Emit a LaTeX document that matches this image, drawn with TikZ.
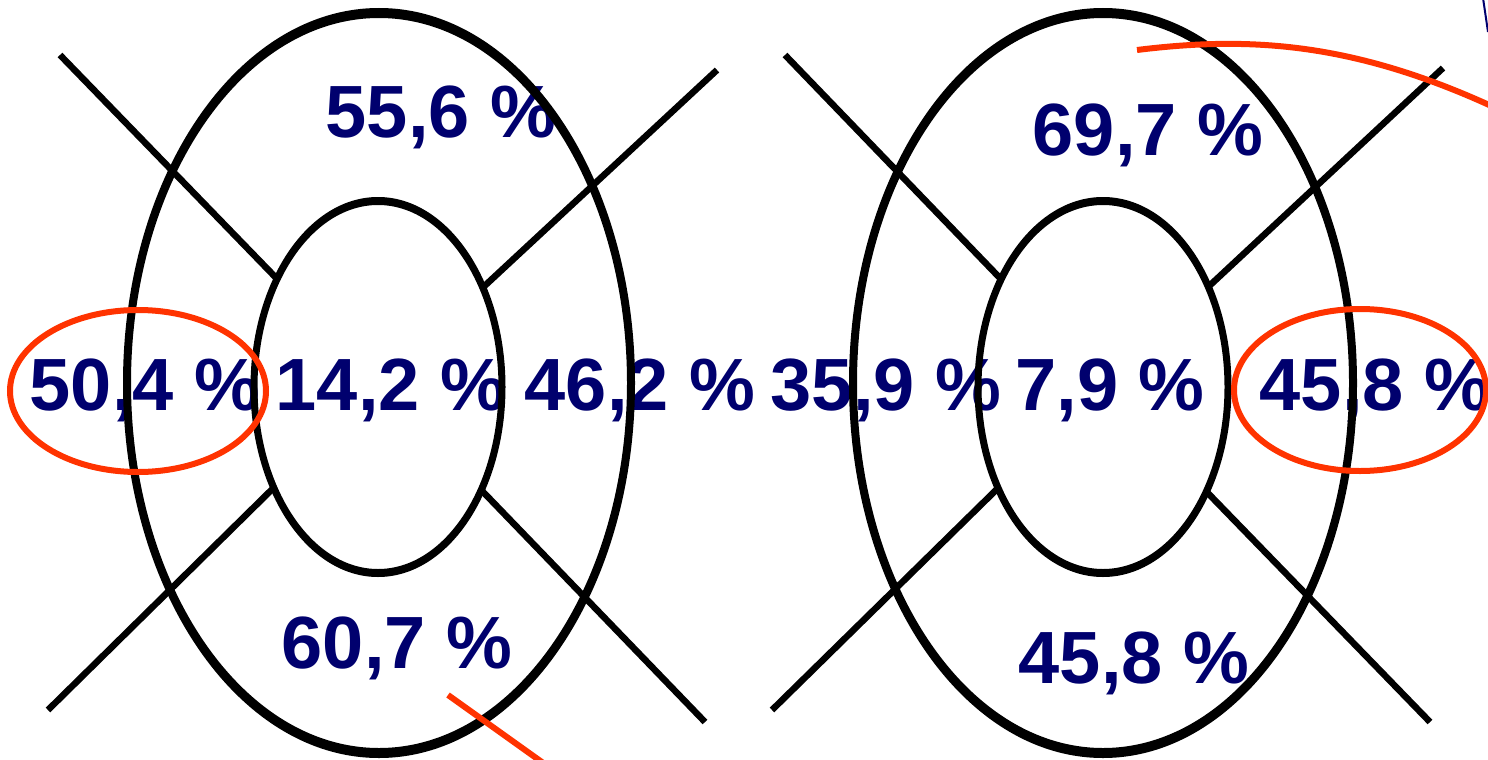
\documentclass[tikz,border=0pt]{standalone}
\usepackage{fontspec}
\setmainfont{Liberation Sans}
\definecolor{navy}{RGB}{0,0,110}
\definecolor{redink}{RGB}{255,51,0}
\begin{document}
\begin{tikzpicture}[x=1pt,y=-1pt,
  pct/.style={text=navy,font=\fontsize{74}{80}\selectfont\bfseries,inner sep=0pt,anchor=base},
  ring/.style={fill=black,even odd rule},
  spoke/.style={line width=6.5pt,black},
  redmark/.style={line width=6pt,draw=redink}]
\useasboundingbox (0,0) rectangle (1488,760);
\clip (0,0) rectangle (1488,760);
% centres
\coordinate (L) at (379,384);
\coordinate (R) at (1103,385);
% spokes (left figure)
\coordinate (l1) at (60,55);
\coordinate (l2) at (717,70);
\coordinate (l3) at (48,710);
\coordinate (l4) at (705,722);
\draw[spoke] (l1) -- (L);
\draw[spoke] (l2) -- (L);
\draw[spoke] (l3) -- (L);
\draw[spoke] (l4) -- (L);
% spokes (right figure)
\coordinate (r1) at (785,55);
\coordinate (r2) at (1443,68);
\coordinate (r3) at (772,710);
\coordinate (r4) at (1430,722);
\draw[spoke] (r1) -- (R);
\draw[spoke] (r2) -- (R);
\draw[spoke] (r3) -- (R);
\draw[spoke] (r4) -- (R);
% inner fills
\fill[white] (378,387) ellipse [x radius=124, y radius=186];
\fill[white] (1103,387) ellipse [x radius=125, y radius=186];
% texts
\node[pct] (t1) at (441,137) {55,6 \%};
\node[pct] (t2) at (391,410) {14,2 \%};
\node[pct] (t3) at (145,410) {50,4 \%};
\node[pct] (t4) at (640,410) {46,2 \%};
\node[pct] (t5) at (397,668) {60,7 \%};
\node[pct] (t6) at (886,410) {35,9 \%};
\node[pct] (t7) at (1110,410) {7,9 \%};
\node[pct] (t8) at (1375,410) {45,8 \%};
\node[pct] (t9) at (1148,155) {69,7 \%};
\node[pct] (t10) at (1134,683) {45,8 \%};
% rings (stroke thicker at top and bottom than at the sides)
\fill[ring] (379,383) ellipse [x radius=256, y radius=375]
            (379,383) ellipse [x radius=248, y radius=365];
\fill[ring] (378,387) ellipse [x radius=127.5, y radius=190]
            (378,387) ellipse [x radius=120.5, y radius=182];
\fill[ring] (1103,383) ellipse [x radius=254, y radius=375]
            (1103,383) ellipse [x radius=246, y radius=365];
\fill[ring] (1103,387) ellipse [x radius=128.5, y radius=190]
            (1103,387) ellipse [x radius=121.5, y radius=182];
% red marks
\draw[redmark] (138,391) ellipse [x radius=128, y radius=81];
\draw[redmark] (1360,390) ellipse [x radius=126, y radius=81];
\coordinate (c1) at (1137,50);
\coordinate (c2) at (1500,110);
\draw[redmark] (c1) .. controls (1250,36) and (1355,42) .. (c2);
\coordinate (d1) at (448,695);
\coordinate (d2) at (560,775);
\draw[redmark] (d1) -- (d2);
% small blue mark
\coordinate (b1) at (1483,-2);
\coordinate (b2) at (1488,32);
\draw[navy,line width=2pt] (b1) -- (b2);
\end{tikzpicture}
\end{document}
